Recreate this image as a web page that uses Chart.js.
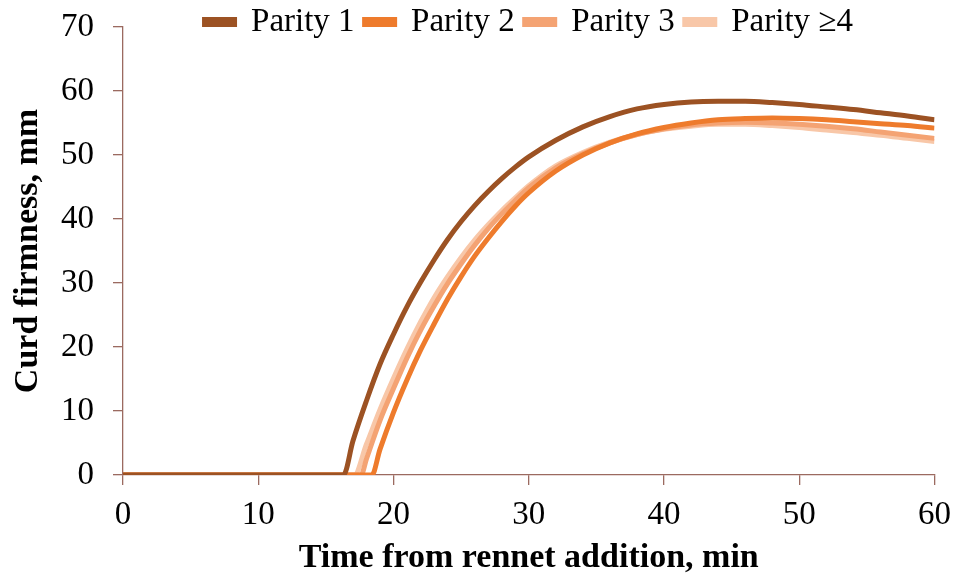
<!DOCTYPE html>
<html>
<head>
<meta charset="utf-8">
<script src="https://cdn.jsdelivr.net/npm/chart.js@4"></script>
<style>
  html, body { margin: 0; padding: 0; background: #ffffff; }
  #wrap { width: 962px; height: 579px; position: relative; }
</style>
</head>
<body>
<div id="wrap"><canvas id="c" width="962" height="579"></canvas></div>
<script>
// ---- Data ----
const seriesNames = ["Parity 1", "Parity 2", "Parity 3", "Parity \u22654"];

const parity1Time = [0, 16.3, 17, 18, 19, 20, 21, 22, 23, 24, 25, 26, 27, 28, 29, 30, 32, 34, 36, 38, 40, 42, 44, 46, 48, 50, 52, 54, 56, 58, 60];
const parity1Firm = [0, 0, 5.3, 11.6, 17.3, 22.0, 26.3, 30.1, 33.6, 36.8, 39.6, 42.1, 44.3, 46.3, 48.1, 49.7, 52.3, 54.4, 56.0, 57.2, 57.9, 58.3, 58.4, 58.4, 58.2, 57.9, 57.5, 57.1, 56.6, 56.1, 55.5];

const parity2Time = [0, 18.4, 19, 20, 21, 22, 23, 24, 25, 26, 27, 28, 29, 30, 32, 34, 36, 38, 40, 42, 44, 46, 48, 50, 52, 54, 56, 58, 60];
const parity2Firm = [0, 0, 4.0, 9.8, 14.9, 19.5, 23.6, 27.5, 31.0, 34.2, 37.0, 39.6, 42.0, 44.1, 47.5, 50.0, 51.9, 53.3, 54.3, 55.0, 55.5, 55.7, 55.8, 55.7, 55.5, 55.2, 54.9, 54.6, 54.2];

const parity3Time = [0, 17.6, 18, 19, 20, 21, 22, 23, 24, 25, 26, 27, 28, 29, 30, 32, 34, 36, 38, 40, 42, 44, 46, 48, 50, 52, 54, 56, 58, 60];
const parity3Firm = [0, 0, 2.5, 8.5, 13.5, 18.3, 22.6, 26.4, 29.9, 33.0, 35.9, 38.5, 40.8, 42.9, 44.9, 48.0, 50.2, 51.9, 53.2, 54.1, 54.7, 55.0, 55.1, 55.0, 54.8, 54.5, 54.1, 53.6, 53.1, 52.6];

const parity4Time = [0, 17.1, 18, 19, 20, 21, 22, 23, 24, 25, 26, 27, 28, 29, 30, 32, 34, 36, 38, 40, 42, 44, 46, 48, 50, 52, 54, 56, 58, 60];
const parity4Firm = [0, 0, 4.8, 10.2, 15.1, 19.7, 23.9, 27.7, 31.0, 34.0, 36.7, 39.1, 41.3, 43.3, 45.2, 48.3, 50.4, 52.0, 53.2, 54.0, 54.5, 54.8, 54.8, 54.6, 54.3, 53.9, 53.5, 53.1, 52.6, 52.1];

const xTicks = [0, 10, 20, 30, 40, 50, 60];
const yTicks = [0, 10, 20, 30, 40, 50, 60, 70];

const xTitle = "Time from rennet addition, min";
const yTitle = "Curd firmness, mm";

// ---- Styling ----
const colors = ["#9C5223", "#EE7B2C", "#F4A373", "#F8C7A8"];
const axisColor = "#9B6A60";
const fontFamily = "'Liberation Serif', 'Times New Roman', serif";
const legendFontSize = 33;
const legendPadding = 10;
const legendCenterY = 22;

function pairs(xs, ys) { return xs.map((x, i) => ({ x: x, y: ys[i] })); }

const timeArrays = [parity1Time, parity2Time, parity3Time, parity4Time];
const firmArrays = [parity1Firm, parity2Firm, parity3Firm, parity4Firm];

const datasets = seriesNames.map((name, i) => ({
  label: name,
  data: pairs(timeArrays[i], firmArrays[i]),
  borderColor: colors[i],
  backgroundColor: colors[i],
  borderWidth: 5,
  pointRadius: 0,
  pointHoverRadius: 0,
  cubicInterpolationMode: 'monotone',
  fill: false
}));

// The legend overlaps the top strip of the plot; pin its box to the canvas top
const legendToTop = {
  id: 'legendToTop',
  afterLayout(chart) {
    const lg = chart.legend;
    if (lg) {
      lg.top = legendCenterY - legendPadding - legendFontSize / 2;
      lg.bottom = lg.top + 80;
    }
  }
};

new Chart(document.getElementById('c'), {
  type: 'line',
  data: { datasets: datasets },
  plugins: [legendToTop],
  options: {
    responsive: false,
    animation: false,
    devicePixelRatio: 1,
    layout: { padding: { top: 0, right: 27, bottom: 0, left: 0 } },
    plugins: {
      tooltip: { enabled: false },
      legend: {
        position: 'top',
        align: 'center',
        fullSize: false,
        maxHeight: 27,
        labels: {
          color: '#000',
          font: { family: fontFamily, size: legendFontSize },
          boxWidth: 30,
          boxHeight: 5,
          padding: legendPadding
        }
      }
    },
    scales: {
      x: {
        type: 'linear',
        min: 0,
        max: 60,
        afterBuildTicks: (axis) => { axis.ticks = xTicks.map(v => ({ value: v })); },
        afterFit: (axis) => { axis.height = 104; },
        ticks: {
          color: '#000',
          font: { family: fontFamily, size: 33 },
          padding: 11,
          maxRotation: 0
        },
        grid: { drawOnChartArea: false, drawTicks: true, tickLength: 10, color: axisColor, lineWidth: 1.3 },
        border: { display: true, color: axisColor, width: 1.3 },
        title: {
          display: true,
          text: xTitle,
          color: '#000',
          font: { family: fontFamily, size: 34, weight: 'bold' },
          padding: { top: 0, bottom: 0 }
        }
      },
      y: {
        type: 'linear',
        min: 0,
        max: 70,
        afterBuildTicks: (axis) => { axis.ticks = yTicks.map(v => ({ value: v })); },
        afterFit: (axis) => { axis.width = 123; axis.paddingTop = 10; axis.paddingBottom = 10; },
        ticks: {
          color: '#000',
          font: { family: fontFamily, size: 33 },
          padding: 19
        },
        grid: { drawOnChartArea: false, drawTicks: true, tickLength: 10, color: axisColor, lineWidth: 1.3 },
        border: { display: true, color: axisColor, width: 1.3 },
        title: {
          display: true,
          text: yTitle,
          color: '#000',
          font: { family: fontFamily, size: 34, weight: 'bold' },
          padding: { top: 8, bottom: 0 }
        }
      }
    }
  }
});
</script>
</body>
</html>
